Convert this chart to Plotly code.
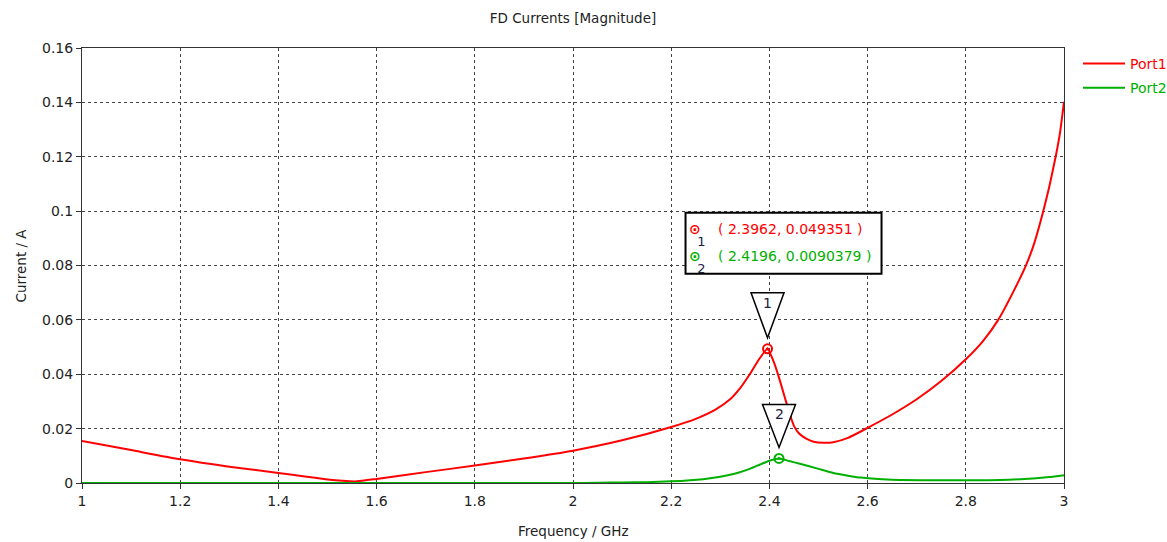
import plotly.graph_objects as go

# ---- data ----
freq_port1 = [1.0, 1.1, 1.2, 1.3, 1.4, 1.45, 1.5, 1.53, 1.56, 1.6, 1.7, 1.8, 1.9, 2.0, 2.1, 2.2,
              2.25, 2.29, 2.32, 2.34, 2.36, 2.38, 2.3962, 2.41, 2.42, 2.432, 2.44, 2.45,
              2.46, 2.475, 2.49, 2.51, 2.53, 2.56, 2.6, 2.65, 2.7, 2.75,
              2.8, 2.835, 2.866, 2.9, 2.923, 2.94, 2.958, 2.97, 2.983, 2.992, 3.0]
cur_port1 = [0.0155, 0.0121, 0.0087, 0.0060, 0.0037, 0.0025, 0.0013, 0.0008, 0.0006, 0.0015,
             0.0040, 0.0064, 0.0090, 0.0119, 0.0157, 0.0206, 0.0236, 0.0270, 0.0308, 0.0348,
             0.0400, 0.0458, 0.049351, 0.0440, 0.0385, 0.0311, 0.0262, 0.0210, 0.0183,
             0.0163, 0.0152, 0.0148, 0.0150, 0.0166, 0.0203, 0.0252, 0.0308, 0.0375,
             0.0455, 0.0522, 0.0600, 0.0715, 0.0802, 0.0885, 0.1001, 0.1090, 0.1200,
             0.1290, 0.1402]

freq_port2 = [1.0, 1.5, 2.0, 2.05, 2.1, 2.15, 2.2, 2.265, 2.3, 2.333, 2.36, 2.381, 2.4, 2.4196,
              2.44, 2.462, 2.5, 2.53, 2.56, 2.585, 2.63, 2.666, 2.75, 2.87, 2.937, 2.97, 3.0]
cur_port2 = [0.0, 0.0, 0.0, 0.0001, 0.0002, 0.0003, 0.0006, 0.0014, 0.0023, 0.0036, 0.0052,
             0.0068, 0.0082, 0.0090379, 0.0081, 0.0071, 0.0052, 0.0037, 0.0027, 0.0020,
             0.0014, 0.0011, 0.0010, 0.0011, 0.0017, 0.0022, 0.0029]

marker_labels = ["1", "2"]
marker_x = [2.3962, 2.4196]
marker_y = [0.049351, 0.0090379]

x_ticks = [1.0, 1.2, 1.4, 1.6, 1.8, 2.0, 2.2, 2.4, 2.6, 2.8, 3.0]
y_ticks = [0, 0.02, 0.04, 0.06, 0.08, 0.1, 0.12, 0.14, 0.16]

RED = "#ff0000"
GREEN = "#00b000"
FONT = "DejaVu Sans"
series_colors = [RED, GREEN]

fig = go.Figure()
fig.add_trace(go.Scatter(x=freq_port1, y=cur_port1, mode="lines",
                         name=f"<span style='color:{RED}'>Port1</span>",
                         line=dict(color=RED, width=2, shape="spline", smoothing=0.5),
                         legendgroup="a"))
fig.add_trace(go.Scatter(x=freq_port2, y=cur_port2, mode="lines",
                         name=f"<span style='color:{GREEN}'>Port2</span>",
                         line=dict(color=GREEN, width=2, shape="spline", smoothing=0.5),
                         legendgroup="b"))

# marker points
for i in range(2):
    fig.add_trace(go.Scatter(x=[marker_x[i]], y=[marker_y[i]], mode="markers",
                             marker=dict(symbol="circle-open-dot", size=9,
                                         color=series_colors[i], line=dict(width=2)),
                             showlegend=False, hoverinfo="skip"))

shapes = []
annotations = []
# triangle flags above each marker
tri_top = [56, 54]
for i in range(2):
    h = tri_top[i]
    shapes.append(dict(type="path", xref="x", yref="y",
                       xsizemode="pixel", ysizemode="pixel",
                       xanchor=marker_x[i], yanchor=marker_y[i],
                       path=f"M-16.5,{h} L16.5,{h} L0,11 Z",
                       line=dict(color="black", width=1.5), fillcolor="white"))
    annotations.append(dict(x=marker_x[i], y=marker_y[i], xref="x", yref="y",
                            text=marker_labels[i], showarrow=False,
                            yshift=h - 10, font=dict(family=FONT, size=14, color="#202040")))

# info box anchored to marker 1
shapes.append(dict(type="rect", xref="x", yref="y", xsizemode="pixel", ysizemode="pixel",
                   xanchor=marker_x[0], yanchor=marker_y[0],
                   x0=-82, x1=114, y0=75, y1=136,
                   line=dict(color="black", width=2), fillcolor="white"))
row_shift = [120, 93]
for i in range(2):
    annotations.append(dict(x=marker_x[0], y=marker_y[0], xref="x", yref="y",
                            text=f"( {marker_x[i]}, {marker_y[i]} )", showarrow=False,
                            xanchor="left", xshift=-52, yshift=row_shift[i],
                            font=dict(family=FONT, size=14, color=series_colors[i])))
    # marker icon with its number just below (one text block)
    annotations.append(dict(x=marker_x[0], y=marker_y[0], xref="x", yref="y",
                            text=(f"<span style='color:{series_colors[i]};font-size:14px'><b>⊙</b></span>"
                                  f"<br><span style='color:#202040;font-size:13px'>  {marker_labels[i]}</span>"),
                            showarrow=False, align="left", xanchor="left", yanchor="top",
                            xshift=-80, yshift=row_shift[i] + 9, borderpad=0,
                            font=dict(family=FONT, size=9.5, color="#202040")))

# axis titles
annotations.append(dict(x=0.5, y=-0.1103, xref="paper", yref="paper", text="Frequency / GHz",
                        showarrow=False, yanchor="middle",
                        font=dict(family=FONT, size=13.5, color="#222")))
annotations.append(dict(x=-0.0631, y=0.5, xref="paper", yref="paper", text="Current / A",
                        showarrow=False, textangle=-90, xanchor="center", yanchor="middle",
                        font=dict(family=FONT, size=13.5, color="#222")))

fig.update_layout(
    width=1167, height=542,
    margin=dict(l=82, r=103, t=48, b=59, autoexpand=False),
    paper_bgcolor="white", plot_bgcolor="white",
    font=dict(family=FONT, size=14, color="#222"),
    title=dict(text="FD Currents [Magnitude]", x=0.491, xanchor="center",
               y=1 - 18 / 542, yanchor="middle", yref="container",
               font=dict(family=FONT, size=13.5, color="#222")),
    showlegend=True,
    legend=dict(xref="container", yref="container", x=1078 / 1167, y=1 - 48 / 542,
                xanchor="left", yanchor="top",
                font=dict(family=FONT, size=14), bgcolor="rgba(0,0,0,0)",
                tracegroupgap=3, traceorder="grouped", itemwidth=42),
    shapes=shapes, annotations=annotations,
)
fig.update_xaxes(range=[1, 3], tickvals=x_ticks, ticktext=[f"{v:g}" for v in x_ticks],
                 showline=True, linecolor="#333", linewidth=1, mirror=True,
                 ticks="outside", ticklen=5, tickcolor="#333",
                 showgrid=True, gridcolor="#444", griddash="3px,3px", gridwidth=1,
                 zeroline=False, fixedrange=True)
fig.update_yaxes(range=[0, 0.16], tickvals=y_ticks, ticktext=[f"{v:g}" for v in y_ticks],
                 showline=True, linecolor="#333", linewidth=1, mirror=True,
                 ticks="outside", ticklen=5, tickcolor="#333",
                 showgrid=True, gridcolor="#444", griddash="3px,3px", gridwidth=1,
                 zeroline=False, fixedrange=True)

fig.write_html("out.html", config={"displayModeBar": False})

# remove the browser's default body margin so the figure sits at the page origin
with open("out.html", "r", encoding="utf-8") as f:
    html = f.read()
html = html.replace("<head>", "<head><style>html,body{margin:0;padding:0;}</style>", 1)
with open("out.html", "w", encoding="utf-8") as f:
    f.write(html)
